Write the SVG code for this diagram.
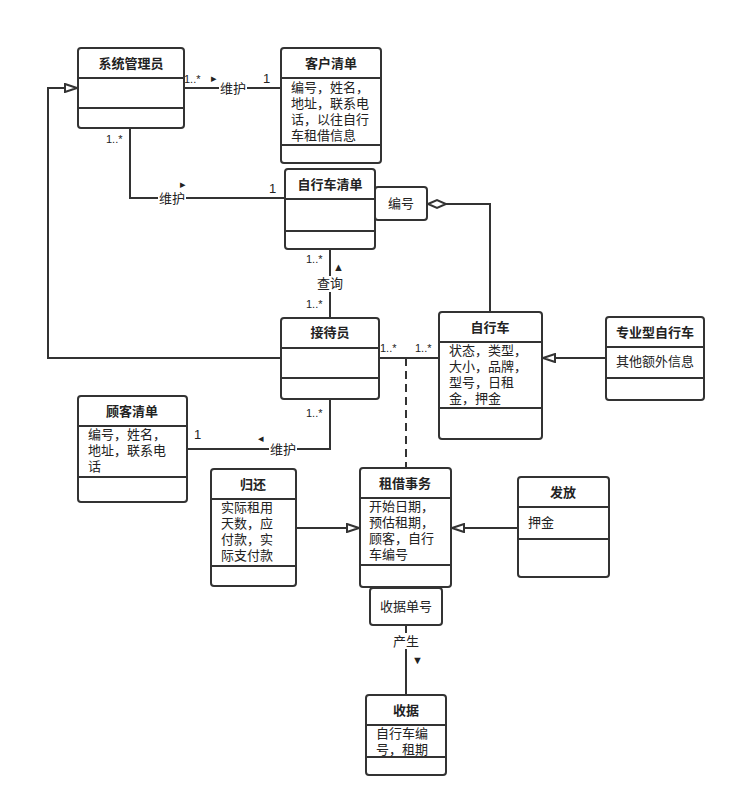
<svg xmlns="http://www.w3.org/2000/svg" width="735" height="807" viewBox="0 0 735 807">
<style>
text{font-family:"Liberation Sans","Noto Sans CJK SC",sans-serif;font-size:13px;fill:#222}
.h{font-weight:bold;text-anchor:middle}
.s{font-size:11px}
.c{text-anchor:middle}
.b{fill:#fff;stroke:#333;stroke-width:2}
.l{stroke:#333;stroke-width:2}
.e{fill:none;stroke:#333;stroke-width:2}
</style>
<defs>
<marker id="tri" markerWidth="14" markerHeight="10" refX="13" refY="5" orient="auto" markerUnits="userSpaceOnUse"><path d="M1,1 L13,5 L1,9 Z" fill="#fff" stroke="#333" stroke-width="2"/></marker>
</defs>
<rect width="735" height="807" fill="#fff"/>
<g id="connectors">
<path class="e" d="M184,88 H281"/>
<path class="e" d="M130,128 V198 H285"/>
<path class="e" d="M446,204 H490 V312"/>
<path d="M428,204 L437,200 L446,204 L437,208 Z" fill="#fff" stroke="#333" stroke-width="2"/>
<path class="e" d="M330,249 V318"/>
<path class="e" d="M281,358 H48 V88 H77" marker-end="url(#tri)"/>
<path class="e" d="M379,358 H439"/>
<path class="e" d="M406,358 V468" stroke-dasharray="8,5"/>
<path class="e" d="M330,399 V449 H187"/>
<path class="e" d="M296,528 H359" marker-end="url(#tri)"/>
<path class="e" d="M518,528 H452" marker-end="url(#tri)"/>
<path class="e" d="M606,358 H543" marker-end="url(#tri)"/>
<path class="e" d="M406,625 V695"/>
<rect x="219" y="80" width="28" height="16" fill="#fff"/>
<text x="233" y="93" class="c">维护</text>
<text x="211" y="82" class="s">▸</text>
<text x="184" y="83" class="s">1..*</text><text x="263" y="83">1</text>
<rect x="158" y="190" width="28" height="16" fill="#fff"/>
<text x="172" y="203" class="c">维护</text>
<text x="180" y="188" class="s">▸</text>
<text x="106" y="143" class="s">1..*</text><text x="269" y="193">1</text>
<rect x="316" y="276" width="28" height="16" fill="#fff"/>
<text x="330" y="288" class="c">查询</text>
<text x="333" y="271" class="s">▲</text>
<text x="306" y="263" class="s">1..*</text><text x="306" y="308" class="s">1..*</text>
<text x="380" y="352" class="s">1..*</text><text x="415" y="352" class="s">1..*</text>
<rect x="269" y="441" width="28" height="16" fill="#fff"/>
<text x="283" y="454" class="c">维护</text>
<text x="258" y="442" class="s">◂</text>
<text x="306" y="417" class="s">1..*</text><text x="194" y="439">1</text>
<rect x="392" y="633" width="28" height="16" fill="#fff"/>
<text x="406" y="646" class="c">产生</text>
<text x="412" y="664" class="s">▼</text>
</g>
<g id="n1"><rect class="b" x="78" y="48" width="106" height="80" rx="3"/><path class="l" d="M78,78 H184 M78,108 H184"/><text x="131" y="68" class="h">系统管理员</text></g>
<g id="n2"><rect class="b" x="281" y="48" width="100" height="115" rx="3"/><path class="l" d="M281,78 H381 M281,145 H381"/><text x="331" y="68" class="h">客户清单</text>
<text x="291" y="92">编号，姓名，</text><text x="291" y="108">地址，联系电</text><text x="291" y="124">话，以往自行</text><text x="291" y="140">车租借信息</text></g>
<g id="n3"><rect class="b" x="285" y="169" width="90" height="80" rx="3"/><path class="l" d="M285,199 H375 M285,231 H375"/><text x="330" y="189" class="h">自行车清单</text></g>
<g id="q1"><rect class="b" x="375" y="187" width="52" height="33" rx="3"/><text x="401" y="208" class="c">编号</text></g>
<g id="n4"><rect class="b" x="281" y="318" width="98" height="81" rx="3"/><path class="l" d="M281,348 H379 M281,378 H379"/><text x="330" y="337" class="h">接待员</text></g>
<g id="n5"><rect class="b" x="439" y="312" width="103" height="127" rx="3"/><path class="l" d="M439,342 H542 M439,408 H542"/><text x="490" y="332" class="h">自行车</text>
<text x="449" y="355">状态，类型，</text><text x="449" y="371">大小，品牌，</text><text x="449" y="387">型号，日租</text><text x="449" y="403">金，押金</text></g>
<g id="n6"><rect class="b" x="606" y="317" width="98" height="83" rx="3"/><path class="l" d="M606,347 H704 M606,378 H704"/><text x="655" y="337" class="h">专业型自行车</text><text x="616" y="366">其他额外信息</text></g>
<g id="n7"><rect class="b" x="78" y="396" width="109" height="106" rx="3"/><path class="l" d="M78,426 H187 M78,477 H187"/><text x="132" y="416" class="h">顾客清单</text>
<text x="88" y="439">编号，姓名，</text><text x="88" y="455">地址，联系电</text><text x="88" y="471">话</text></g>
<g id="n8"><rect class="b" x="211" y="469" width="85" height="117" rx="3"/><path class="l" d="M211,499 H296 M211,566 H296"/><text x="253" y="489" class="h">归还</text>
<text x="221" y="512">实际租用</text><text x="221" y="528">天数，应</text><text x="221" y="544">付款，实</text><text x="221" y="560">际支付款</text></g>
<g id="n9"><rect class="b" x="360" y="468" width="91" height="119" rx="3"/><path class="l" d="M360,498 H451 M360,565 H451"/><text x="405" y="488" class="h">租借事务</text>
<text x="369" y="511">开始日期，</text><text x="369" y="527">预估租期，</text><text x="369" y="543">顾客，自行</text><text x="369" y="559">车编号</text></g>
<g id="n10"><rect class="b" x="518" y="477" width="91" height="100" rx="3"/><path class="l" d="M518,507 H609 M518,539 H609"/><text x="563" y="497" class="h">发放</text><text x="528" y="527">押金</text></g>
<g id="q2"><rect class="b" x="370" y="588" width="72" height="37" rx="3"/><text x="406" y="611" class="c">收据单号</text></g>
<g id="n11"><rect class="b" x="366" y="695" width="80" height="80" rx="3"/><path class="l" d="M366,725 H446 M366,757 H446"/><text x="406" y="715" class="h">收据</text>
<text x="376" y="738">自行车编</text><text x="376" y="754">号，租期</text></g>
</svg>
